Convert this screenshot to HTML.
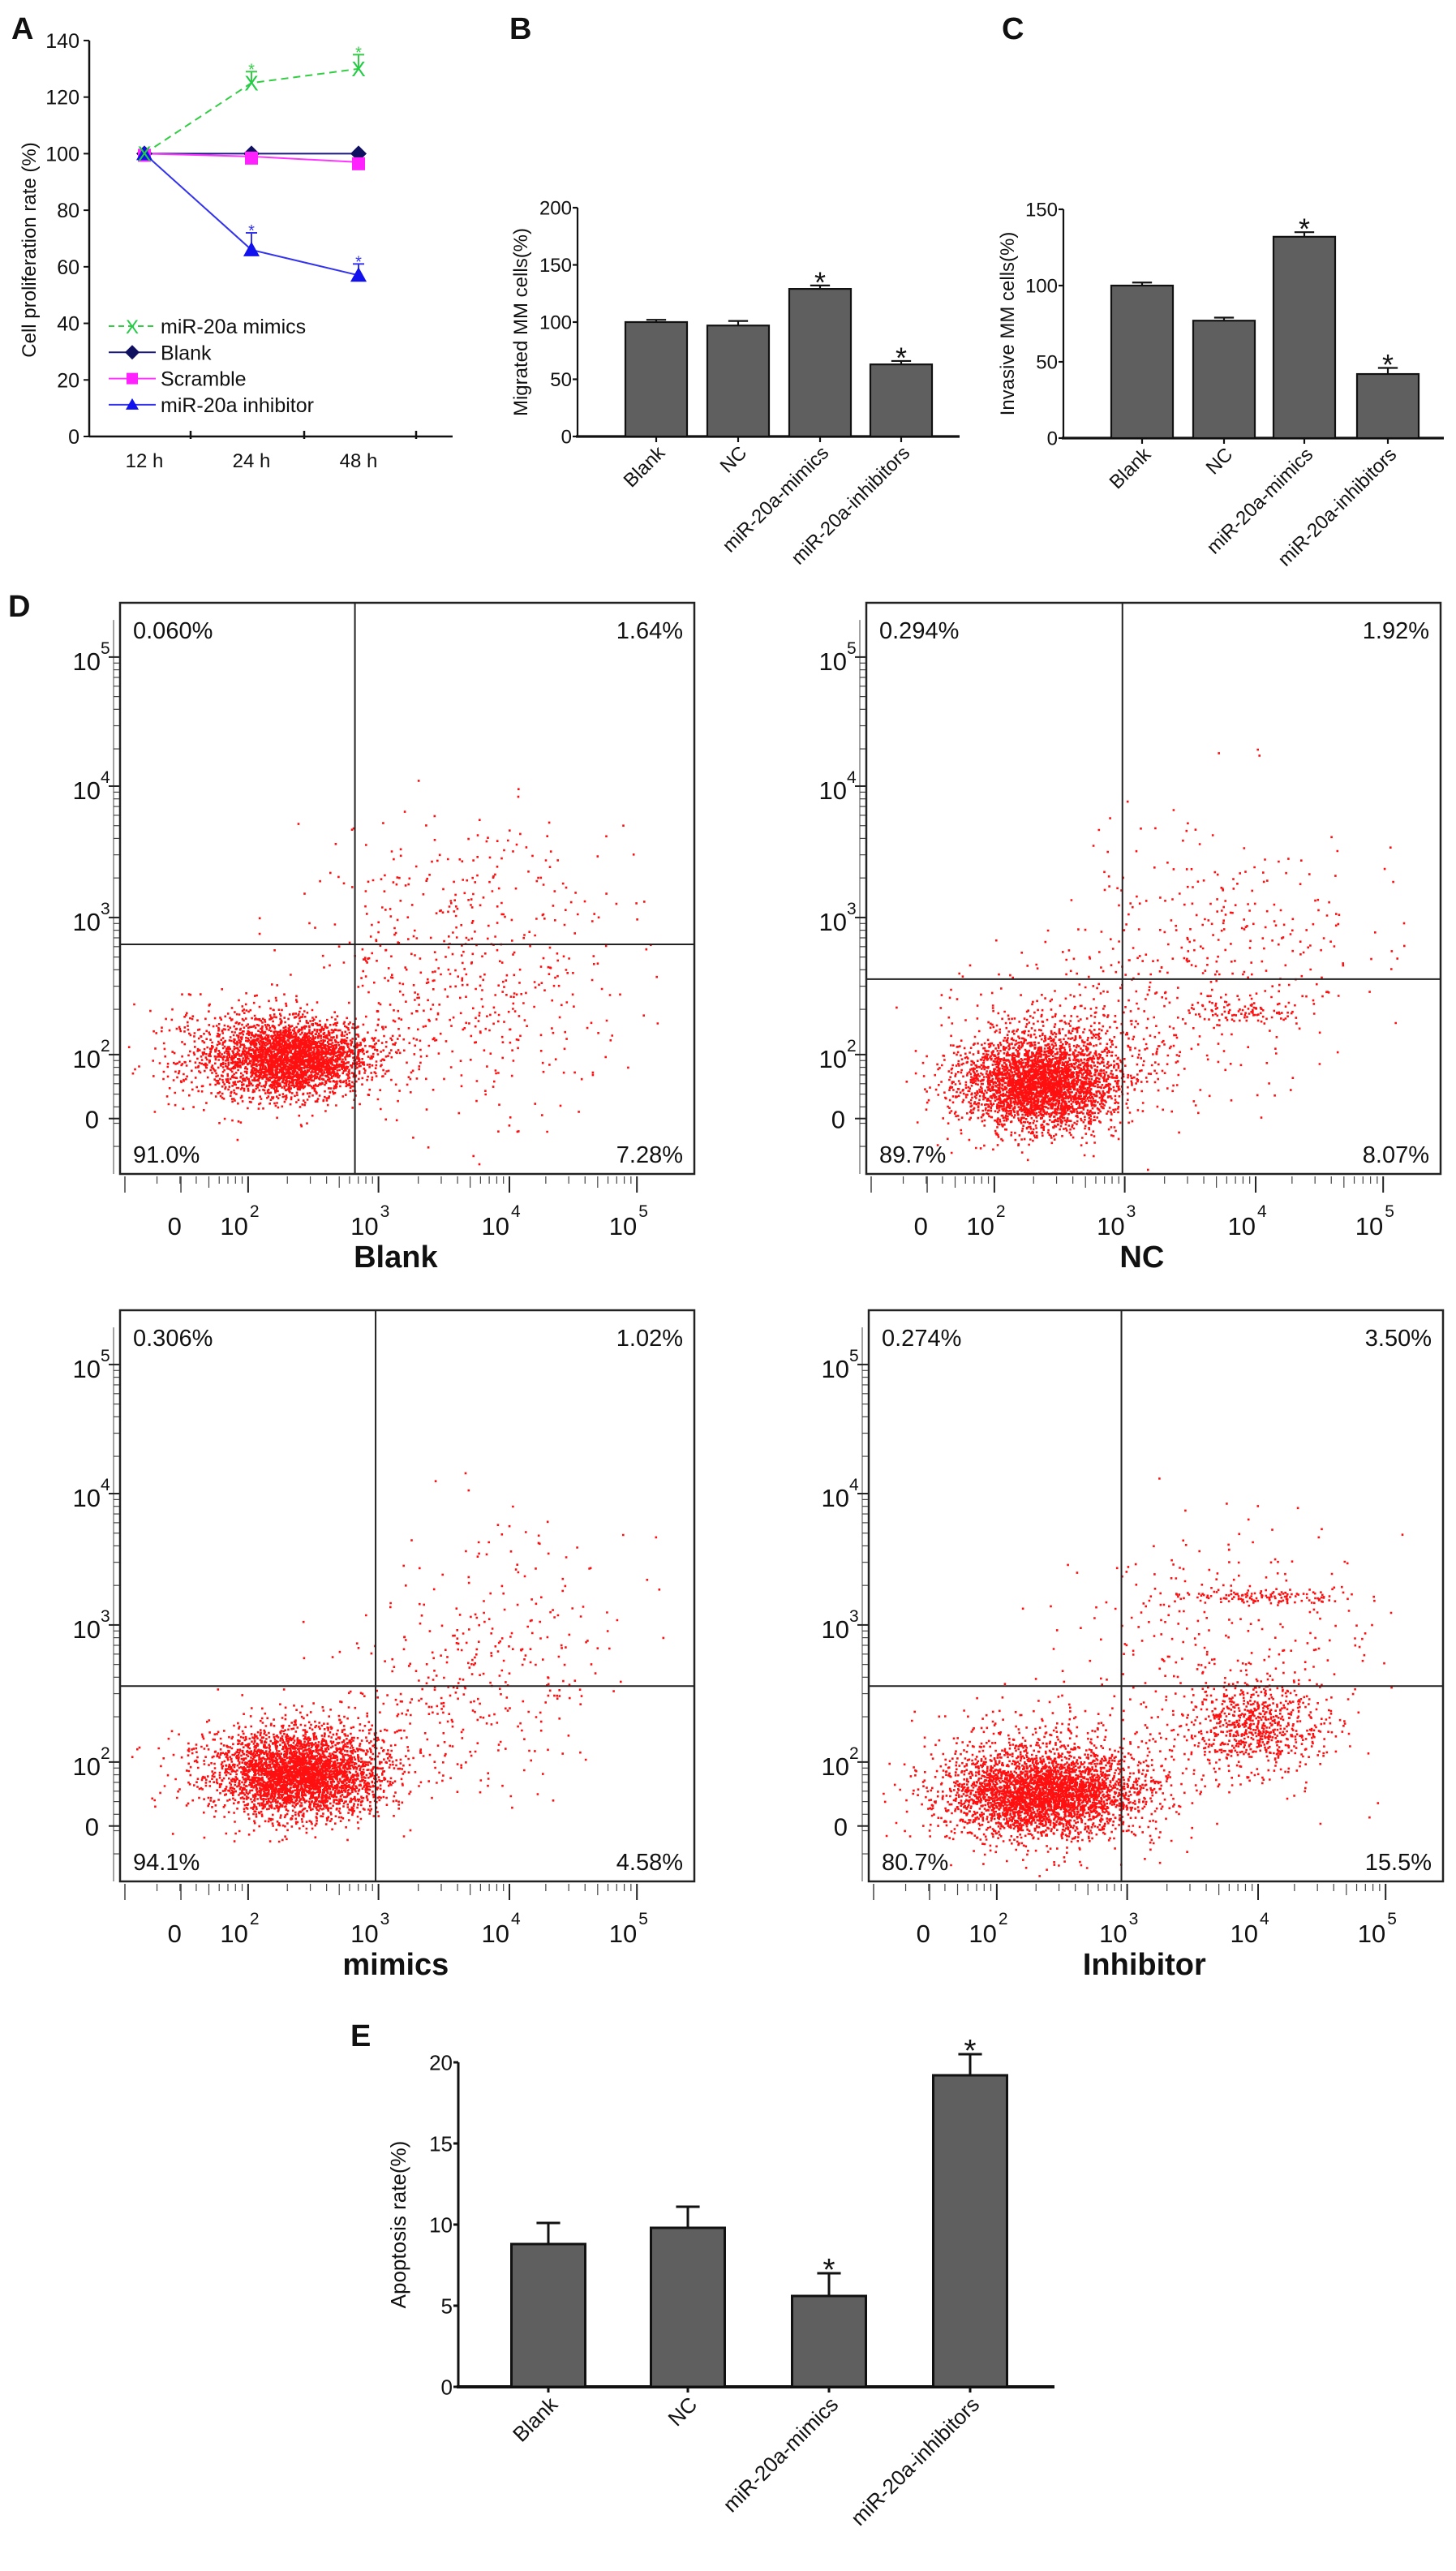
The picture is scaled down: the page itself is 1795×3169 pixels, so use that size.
<!DOCTYPE html>
<html><head><meta charset="utf-8"><style>
html,body{margin:0;padding:0;background:#fff}
svg{display:block}
text{font-family:"Liberation Sans",Arial,sans-serif;fill:#111}
</style></head><body>
<svg id="fig" xmlns="http://www.w3.org/2000/svg" width="1795" height="3169" viewBox="0 0 1795 3169"></svg>
<script>
// ---------- Panel A data ----------
const aTimes=["12 h","24 h","48 h"];
const aMimics=[100,125,130];
const aBlank=[100,100,100];
const aScramble=[100,99,97];
const aInhib=[100,66,57];
const aMimicsErr=[0,4,5];
const aInhibErr=[0,6,4];
const aTicks=[0,20,40,60,80,100,120,140];
// ---------- Panel B ----------
const bCats=["Blank","NC","miR-20a-mimics","miR-20a-inhibitors"];
const bVals=[100,97,129,63];
const bErr=[2,4,3,3];
const bTicks=[0,50,100,150,200];
// ---------- Panel C ----------
const cVals=[100,77,132,42];
const cErr=[2,2,3,4];
const cTicks=[0,50,100,150];
// ---------- Panel E ----------
const eVals=[8.8,9.8,5.6,19.2];
const eErr=[1.3,1.3,1.4,1.3];
const eTicks=[0,5,10,15,20];
// ---------- Panel D ----------
const dTitles=["Blank","NC","mimics","Inhibitor"];
const dTL=["0.060%","0.294%","0.306%","0.274%"];
const dTR=["1.64%","1.92%","1.02%","3.50%"];
const dBL=["91.0%","89.7%","94.1%","80.7%"];
const dBR=["7.28%","8.07%","4.58%","15.5%"];
const dGateX=[0.409,0.446,0.445,0.44];
const dGateY=[0.598,0.659,0.658,0.658];
// clusters per plot: [cx, cy, sdx, sdy, n] in relative frame units
const dClusters1=[[0.3,0.795,0.065,0.032,2600],[0.24,0.79,0.09,0.045,700],[0.6,0.68,0.13,0.11,450],[0.6,0.5,0.13,0.07,120]];
const dClusters2=[[0.3,0.84,0.065,0.038,3000],[0.33,0.8,0.1,0.07,700],[0.6,0.63,0.13,0.12,380],[0.66,0.715,0.05,0.012,90]];
const dClusters3=[[0.31,0.81,0.07,0.035,3000],[0.3,0.8,0.1,0.05,600],[0.58,0.68,0.12,0.08,250],[0.68,0.52,0.09,0.12,130]];
const dClusters4=[[0.3,0.845,0.08,0.035,3000],[0.33,0.82,0.12,0.06,800],[0.67,0.726,0.06,0.04,700],[0.68,0.5,0.08,0.006,130],[0.62,0.6,0.13,0.12,300]];

const NS="http://www.w3.org/2000/svg";
const svg=document.getElementById('fig');
function el(tag,attrs,parent){const e=document.createElementNS(NS,tag);for(const k in attrs)e.setAttribute(k,attrs[k]);(parent||svg).appendChild(e);return e;}
function txt(s,x,y,size,attrs,parent){const t=el('text',Object.assign({x:x,y:y,'font-size':size},attrs||{}),parent);t.textContent=s;return t;}

// panel letters
[["A",14,48],["B",628,48],["C",1235,48],["D",10,760],["E",432,2522]].forEach(p=>{
 const t=txt(p[0],p[1],p[2],38,{'font-weight':'bold'});
 
 
});

// ===== Panel A =====
const gA=el('g',{});


const aX0=110,aY0=538;
function ay(v){return aY0-v*3.486;}
function ax(i){return 178+i*132;}
el('line',{x1:aX0,y1:ay(0),x2:aX0,y2:ay(140),stroke:'#111','stroke-width':2.5},gA);
el('line',{x1:aX0,y1:aY0,x2:558,y2:aY0,stroke:'#111','stroke-width':2.5},gA);
aTicks.forEach(v=>{el('line',{x1:aX0-7,y1:ay(v),x2:aX0,y2:ay(v),stroke:'#111','stroke-width':2},gA);
 const t=txt(String(v),aX0-12,ay(v)+9,25,{'text-anchor':'end'},gA);
 });
[235,375,513].forEach(x=>{el('line',{x1:x,y1:aY0-7,x2:x,y2:aY0+3,stroke:'#111','stroke-width':2.5},gA);});
aTimes.forEach((s,i)=>{const t=txt(s,ax(i),576,24,{'text-anchor':'middle'},gA);
 });
const ayl=txt("Cell proliferation rate (%)",0,0,24,{'text-anchor':'middle',transform:'translate(44,308) rotate(-90)'},gA);

function series(vals,color,dash,name){
 const p=el('polyline',{points:vals.map((v,i)=>ax(i)+','+ay(v)).join(' '),fill:'none',stroke:color,'stroke-width':2,'stroke-dasharray':dash||'none'},gA);
 return p;}
series(aBlank,'#1a1a80','','line-blank');
series(aScramble,'#ff33ff','','line-scramble');
series(aInhib,'#3333ee','','line-inhibitor');
series(aMimics,'#33cc44','9,6','line-mimics');
function err(x,v,e,color,f){if(!e)return;el('line',{x1:x,y1:f(v),x2:x,y2:f(v+e),stroke:color,'stroke-width':2},gA);el('line',{x1:x-7,y1:f(v+e),x2:x+7,y2:f(v+e),stroke:color,'stroke-width':2},gA);}
aBlank.forEach((v,i)=>{const m=el('path',{d:`M${ax(i)},${ay(v)-10}L${ax(i)+10},${ay(v)}L${ax(i)},${ay(v)+10}L${ax(i)-10},${ay(v)}Z`,fill:'#101060'},gA);});
aScramble.forEach((v,i)=>{const m=el('rect',{x:ax(i)-8,y:ay(v)-6,width:16,height:16,fill:'#ff22ff'},gA);});
aInhib.forEach((v,i)=>{err(ax(i),v,aInhibErr[i],'#3333ee',ay);
 const m=el('path',{d:`M${ax(i)},${ay(v)-10}L${ax(i)+10},${ay(v)+8}L${ax(i)-10},${ay(v)+8}Z`,fill:'#1111ee'},gA);
 if(aInhibErr[i]){const s=txt('*',ax(i),ay(v+aInhibErr[i])+4,20,{'text-anchor':'middle'},gA);s.style.fill='#3333ee';}});
aMimics.forEach((v,i)=>{err(ax(i),v,aMimicsErr[i],'#33cc44',ay);
 const m=txt('X',ax(i),ay(v)+9,26,{'text-anchor':'middle'},gA);m.style.fill='#22cc44';
 if(aMimicsErr[i]){const s=txt('*',ax(i),ay(v+aMimicsErr[i])+4,20,{'text-anchor':'middle'},gA);s.style.fill='#33cc44';}});
// legend
const legItems=[["miR-20a mimics","#33cc44","x"],["Blank","#1a1a80","d"],["Scramble","#ff33ff","s"],["miR-20a inhibitor","#3333ee","t"]];
legItems.forEach((it,k)=>{const y=402+k*32.3;const g=el('g',{},gA);
 
 el('line',{x1:134,y1:y,x2:192,y2:y,stroke:it[1],'stroke-width':2,'stroke-dasharray':it[2]=='x'?'7,5':'none'},g);
 if(it[2]=='d')el('path',{d:`M163,${y-9}L172,${y}L163,${y+9}L154,${y}Z`,fill:'#101060'},g);
 if(it[2]=='s')el('rect',{x:156,y:y-7,width:14,height:14,fill:'#ff22ff'},g);
 if(it[2]=='t')el('path',{d:`M163,${y-8}L171,${y+6}L155,${y+6}Z`,fill:'#1111ee'},g);
 if(it[2]=='x'){const xx=txt('X',163,y+9,24,{'text-anchor':'middle'},g);xx.style.fill='#22cc44';}
 txt(it[0],198,y+9,25,{},g);});

// ===== Bar chart helper =====
function barChart(name,x0,y0,scale,ticks,vals,errs,cats,centers,bw,xEnd,ylabel,ylx,stars,fs,sw){
 const g=el('g',{});
 const fy=v=>y0-v*scale;
 el('line',{x1:x0,y1:y0,x2:x0,y2:fy(ticks[ticks.length-1]),stroke:'#111','stroke-width':sw},g);
 el('line',{x1:x0-2,y1:y0,x2:xEnd,y2:y0,stroke:'#111','stroke-width':sw+1},g);
 ticks.forEach(v=>{el('line',{x1:x0-6,y1:fy(v),x2:x0,y2:fy(v),stroke:'#111','stroke-width':sw},g);
  const t=txt(String(v),x0-7,fy(v)+fs*0.36,fs,{'text-anchor':'end'},g);});
 vals.forEach((v,i)=>{const cx=centers[i];
  el('line',{x1:cx,y1:fy(v),x2:cx,y2:fy(v+errs[i]),stroke:'#111','stroke-width':sw},g);
  el('line',{x1:cx-bw*0.16,y1:fy(v+errs[i]),x2:cx+bw*0.16,y2:fy(v+errs[i]),stroke:'#111','stroke-width':sw},g);
  const r=el('rect',{x:cx-bw/2,y:fy(v),width:bw,height:v*scale,fill:'#5f5f5f',stroke:'#111','stroke-width':sw},g);
  
  el('line',{x1:cx,y1:y0,x2:cx,y2:y0+7,stroke:'#111','stroke-width':sw},g);
  if(stars[i]){const s=txt('*',cx,fy(v+errs[i])+fs*0.35,fs*1.5,{'text-anchor':'middle'},g);}
  const l=txt(cats[i],0,0,fs,{'text-anchor':'end',transform:`translate(${cx+fs*0.5},${y0+fs*0.9}) rotate(-45)`},g);
  });
 const yl=txt(ylabel,0,0,fs,{'text-anchor':'middle',transform:`translate(${ylx},${(y0+fy(ticks[ticks.length-1]))/2}) rotate(-90)`},g);
 
}
barChart('panel-b-migration-bars',712,538,1.41,bTicks,bVals,bErr,bCats,[809,910,1011,1111],76,1183,'Migrated MM cells(%)',650,[0,0,1,1],24,2.2);
barChart('panel-c-invasion-bars',1311,540,1.88,cTicks,cVals,cErr,bCats,[1408,1509,1608,1711],76,1780,'Invasive  MM cells(%)',1250,[0,0,1,1],24,2.2);
barChart('panel-e-apoptosis-bars',565,2942,20,eTicks,eVals,eErr,bCats,[676,848,1022,1196],91,1300,'Apoptosis rate(%)',500,[0,0,1,1],26,3);

// ===== Panel D flow plots =====
let seed=12345;
function rnd(){seed=(seed*1103515245+12345)%2147483648;return seed/2147483648;}
function gauss(){let u=rnd()||1e-9,v=rnd();return Math.sqrt(-2*Math.log(u))*Math.cos(2*Math.PI*v);}
const frames=[[148,743],[1068,743],[148,1615],[1071,1615]];
const allClusters=[dClusters1,dClusters2,dClusters3,dClusters4];
const W=708,H=704;
const yTickRel=[[0.095,'5'],[0.321,'4'],[0.551,'3'],[0.791,'2']];
const xTickRel=[[0.223,'2'],[0.45,'3'],[0.678,'4'],[0.9,'5']];
frames.forEach((f,k)=>{
 const g=el('g',{});
 const [fx,fy]=f;
 let d='';
 allClusters[k].forEach(c=>{for(let i=0;i<c[4];i++){const x=(c[0]+c[2]*gauss())*W,y=(c[1]+c[3]*gauss())*H;
  if(x<3||x>W-3||y<3||y>H-3)continue;d+=`M${(fx+x).toFixed(1)},${(fy+y).toFixed(1)}h2.6v2.6h-2.6z`;}});
 const p=el('path',{d:d,fill:'#ff1010'},g);
 el('rect',{x:fx,y:fy,width:W,height:H,fill:'none',stroke:'#222','stroke-width':2.5},g);
 const gx=el('line',{x1:fx+dGateX[k]*W,y1:fy,x2:fx+dGateX[k]*W,y2:fy+H,stroke:'#222','stroke-width':2},g);
 
 const gy=el('line',{x1:fx,y1:fy+dGateY[k]*H,x2:fx+W,y2:fy+dGateY[k]*H,stroke:'#222','stroke-width':2},g);
 
 [[dTL[k],fx+16,fy+44,'start'],[dTR[k],fx+W-14,fy+44,'end'],[dBL[k],fx+16,fy+H-14,'start'],[dBR[k],fx+W-14,fy+H-14,'end']].forEach(q=>{
  const t=txt(q[0],q[1],q[2],29,{'text-anchor':q[3]},g);});
 // y axis ticks
 el('line',{x1:fx-8,y1:fy+0.03*H,x2:fx-8,y2:fy+H,stroke:'#444','stroke-width':1},g);
 yTickRel.forEach(t=>{const y=fy+t[0]*H;
  const l=txt('10',fx-24,y+16,31,{'text-anchor':'end'},g);
  txt(t[1],fx-24,y-4,21,{},g);el('line',{x1:fx-14,y1:y,x2:fx-1,y2:y,stroke:'#222','stroke-width':2},g);
  for(let m=1;m<=8;m++){const yy=y+Math.log10(10/(10-m))*0.23*H;el('line',{x1:fx-8,y1:yy,x2:fx-1,y2:yy,stroke:'#444','stroke-width':1.2},g);}});
 const z=txt('0',fx-26,fy+0.903*H+12,31,{'text-anchor':'end'},g);
 el('line',{x1:fx-14,y1:fy+0.903*H,x2:fx-1,y2:fy+0.903*H,stroke:'#222','stroke-width':2},g);
 // x axis ticks
 const by=fy+H+3;
 el('line',{x1:fx+6,y1:by,x2:fx+6,y2:by+20,stroke:'#444','stroke-width':1.5},g);
 el('line',{x1:fx+0.106*W,y1:by,x2:fx+0.106*W,y2:by+20,stroke:'#444','stroke-width':1.5},g);
 xTickRel.forEach(t=>{const x=fx+t[0]*W;
  el('line',{x1:x,y1:by,x2:x,y2:by+20,stroke:'#222','stroke-width':2},g);
  for(let m=1;m<=8;m++){const xx=x-Math.log10(10/(10-m))*0.227*W;el('line',{x1:xx,y1:by,x2:xx,y2:by+(m==5?14:9),stroke:'#444','stroke-width':1.2},g);}
  const l=txt('10',x,by+72,31,{'text-anchor':'end'},g);
  txt(t[1],x+2,by+50,21,{},g);});
 const z2=txt('0',fx+0.095*W,by+72,31,{'text-anchor':'middle'},g);
 const ti=txt(dTitles[k],fx+0.48*W,by+112,38,{'text-anchor':'middle','font-weight':'bold'},g);
 
});
</script>
</body></html>
